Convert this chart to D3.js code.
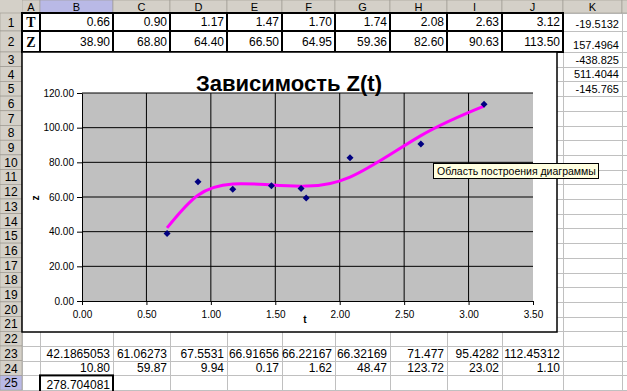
<!DOCTYPE html>
<html>
<head>
<meta charset="utf-8">
<script src="https://cdn.jsdelivr.net/npm/d3@7"></script>
<style>
  body { margin: 0; background: #fff; }
  svg { display: block; font-family: "Liberation Sans", Arial, sans-serif; }
</style>
</head>
<body>
<svg id="sheet" width="627" height="391"></svg>
<script>
// data read from the worksheet
const tValues = [0.66, 0.90, 1.17, 1.47, 1.70, 1.74, 2.08, 2.63, 3.12];
const zValues = [38.90, 68.80, 64.40, 66.50, 64.95, 59.36, 82.60, 90.63, 113.50];
const fitValues = [42.1865053, 61.06273, 67.5531, 66.91656, 66.22167, 66.32169, 71.477, 95.4282, 112.45312];
const fitLabels = ["42.1865053", "61.06273", "67.5531", "66.91656", "66.22167", "66.32169", "71.477", "95.4282", "112.45312"];
const errLabels = ["10.80", "59.87", "9.94", "0.17", "1.62", "48.47", "123.72", "23.02", "1.10"];
const coefLabels = ["-19.5132", "157.4964", "-438.825", "511.4044", "-145.765"];
const sumLabel = "278.704081";
const colLetters = ["A", "B", "C", "D", "E", "F", "G", "H", "I", "J", "K", ""];
const xTicks = [0, 0.5, 1, 1.5, 2, 2.5, 3, 3.5];
const yTicks = [0, 20, 40, 60, 80, 100, 120];
const chartTitle = "Зависимость Z(t)";
const tipText = "Область построения диаграммы";

const svg = d3.select("#sheet");
const W = 627, H = 391;
const headBg = "#d4d0c8", selBg = "#b9b9e6", gridC = "#c0c0c0";

// sheet geometry
const colEdges = [22, 40, 113, 170, 227, 282, 335, 390, 447, 502, 563, 622, 700];
const rowTop = (r) => r === 1 ? 13 : r === 2 ? 31 : 52 + (r - 3) * 14.7;
const rowBot = (r) => rowTop(r + 1);

// grid lines
const gl = svg.append("g").attr("stroke", gridC).attr("stroke-width", 1);
for (let r = 1; r <= 26; r++) {
  gl.append("line").attr("x1", 22).attr("x2", W).attr("y1", Math.round(rowTop(r)) + 0.5).attr("y2", Math.round(rowTop(r)) + 0.5);
}
colEdges.forEach((x) => {
  gl.append("line").attr("x1", x + 0.5).attr("x2", x + 0.5).attr("y1", 13).attr("y2", H);
});

// column headers
const ch = svg.append("g");
ch.append("rect").attr("x", 0).attr("y", 0).attr("width", W).attr("height", 13).attr("fill", headBg);
colLetters.forEach((c, i) => {
  const x0 = colEdges[i], x1 = colEdges[i + 1];
  ch.append("rect").attr("x", x0).attr("y", 0).attr("width", x1 - x0).attr("height", 13)
    .attr("fill", c === "B" ? selBg : headBg).attr("stroke", "#9a968e").attr("stroke-width", 0.6);
  if (c) {
    ch.append("text").attr("x", (x0 + x1) / 2).attr("y", 10.5).attr("text-anchor", "middle")
      .attr("font-size", 11).attr("fill", "#000").text(c);
  }
});

// row headers
const rh = svg.append("g");
rh.append("rect").attr("x", 0).attr("y", 0).attr("width", 22).attr("height", H).attr("fill", headBg);
for (let r = 1; r <= 25; r++) {
  const y0 = rowTop(r), y1 = rowBot(r);
  rh.append("rect").attr("x", 0).attr("y", y0).attr("width", 22).attr("height", y1 - y0)
    .attr("fill", r === 25 ? selBg : headBg).attr("stroke", "#9a968e").attr("stroke-width", 0.6);
  rh.append("text").attr("x", 11).attr("y", (y0 + y1) / 2 + 4.5).attr("text-anchor", "middle")
    .attr("font-size", 12).text(r);
}

// cell text helper, right aligned
function cell(col, row, txt, opts = {}) {
  const i = colLetters.indexOf(col);
  const x = colEdges[i + 1] - 3;
  svg.append("text").attr("x", x).attr("y", rowBot(row) - (opts.pad || 4))
    .attr("text-anchor", "end")
    .attr("font-size", opts.size || 11)
    .text(txt);
}

// rows 1-2: table of T and Z with thick borders
const fmt2 = d3.format(".2f");
const tb = svg.append("g").attr("fill", "none").attr("stroke", "#000").attr("stroke-width", 2);
[1, 2].forEach((r) => {
  for (let i = 0; i < 10; i++) {
    tb.append("rect").attr("x", colEdges[i]).attr("y", rowTop(r))
      .attr("width", colEdges[i + 1] - colEdges[i]).attr("height", rowBot(r) - rowTop(r));
  }
});
svg.append("text").attr("x", 31).attr("y", rowBot(1) - 4).attr("text-anchor", "middle")
  .attr("font-size", 14).attr("font-weight", "bold").attr("font-family", "Liberation Serif, serif").text("T");
svg.append("text").attr("x", 31).attr("y", rowBot(2) - 5).attr("text-anchor", "middle")
  .attr("font-size", 14).attr("font-weight", "bold").attr("font-family", "Liberation Serif, serif").text("Z");
tValues.forEach((v, i) => cell(colLetters[i + 1], 1, fmt2(v), { size: 12, pad: 5 }));
zValues.forEach((v, i) => cell(colLetters[i + 1], 2, fmt2(v), { size: 12, pad: 6 }));
coefLabels.forEach((v, i) => cell("K", i + 1, v, { size: 11, pad: 3 }));

// rows 23-25
fitLabels.forEach((v, i) => cell(colLetters[i + 1], 23, v, { size: 12, pad: 3 }));
errLabels.forEach((v, i) => cell(colLetters[i + 1], 24, v, { size: 12, pad: 3 }));
svg.append("rect").attr("x", colEdges[1]).attr("y", rowTop(25)).attr("width", colEdges[2] - colEdges[1])
  .attr("height", H - rowTop(25) + 2).attr("fill", "none").attr("stroke", "#000").attr("stroke-width", 2);
cell("B", 25, sumLabel, { size: 12, pad: 1 });

// chart object
const chart = { x: 22, y: 52, w: 535, h: 280 };
svg.append("rect").attr("x", chart.x).attr("y", chart.y).attr("width", chart.w).attr("height", chart.h)
  .attr("fill", "#fff").attr("stroke", "#000").attr("stroke-width", 1.5);

const plot = { left: 82, right: 533, top: 93, bottom: 301 };
const x = d3.scaleLinear().domain([0, 3.5]).range([plot.left, plot.right]);
const y = d3.scaleLinear().domain([0, 120]).range([plot.bottom, plot.top]);

svg.append("rect").attr("x", plot.left).attr("y", plot.top)
  .attr("width", plot.right - plot.left).attr("height", plot.bottom - plot.top).attr("fill", "#c0c0c0");

// gridlines
svg.append("g").selectAll("line").data(yTicks.slice(1)).join("line")
  .attr("x1", plot.left).attr("x2", plot.right).attr("y1", (d) => y(d)).attr("y2", (d) => y(d))
  .attr("stroke", "#000").attr("stroke-width", 1);
svg.append("g").selectAll("line").data(xTicks.slice(1, -1)).join("line")
  .attr("x1", (d) => x(d)).attr("x2", (d) => x(d)).attr("y1", plot.top).attr("y2", plot.bottom)
  .attr("stroke", "#000").attr("stroke-width", 1);

// axes
const yAxis = svg.append("g").attr("transform", `translate(${plot.left},0)`)
  .call(d3.axisLeft(y).tickValues(yTicks).tickFormat(fmt2).tickSize(5).tickSizeOuter(0).tickPadding(3));
const xAxis = svg.append("g").attr("transform", `translate(0,${plot.bottom})`)
  .call(d3.axisBottom(x).tickValues(xTicks).tickFormat(fmt2).tickSize(4).tickSizeOuter(0).tickPadding(6));
[xAxis, yAxis].forEach((a) => {
  a.selectAll("text").attr("font-size", 10).attr("font-family", "Liberation Sans, Arial, sans-serif").attr("fill", "#000");
  a.selectAll("line,path").attr("stroke", "#000");
});

// axis titles and chart title
svg.append("text").attr("x", 305).attr("y", 323).attr("text-anchor", "middle")
  .attr("font-size", 10).attr("font-weight", "bold").text("t");
svg.append("text").attr("transform", "translate(39,198) rotate(-90)").attr("text-anchor", "middle")
  .attr("font-size", 10).attr("font-weight", "bold").text("z");
svg.append("text").attr("x", 289).attr("y", 91).attr("text-anchor", "middle")
  .attr("font-size", 22).attr("font-weight", "bold").text(chartTitle);

// trend line through fitted values
const line = d3.line().x((d, i) => x(tValues[i])).y((d) => y(d)).curve(d3.curveNatural);
svg.append("path").attr("d", line(fitValues)).attr("fill", "none")
  .attr("stroke", "#ff00ff").attr("stroke-width", 3);

// data points (square diamonds like excel)
svg.append("g").selectAll("path").data(zValues).join("path")
  .attr("d", "M0,-3.5L3.5,0L0,3.5L-3.5,0Z")
  .attr("transform", (d, i) => `translate(${x(tValues[i])},${y(d)})`)
  .attr("fill", "#000080");

// tooltip
const tip = svg.append("g").attr("transform", "translate(433,163)");
tip.append("rect").attr("x", 0.5).attr("y", 0.5).attr("width", 165).attr("height", 15)
  .attr("fill", "#ffffe1").attr("stroke", "#000").attr("stroke-width", 1);
tip.append("text").attr("x", 4).attr("y", 12).attr("font-size", 10.5).text(tipText);
</script>
</body>
</html>
